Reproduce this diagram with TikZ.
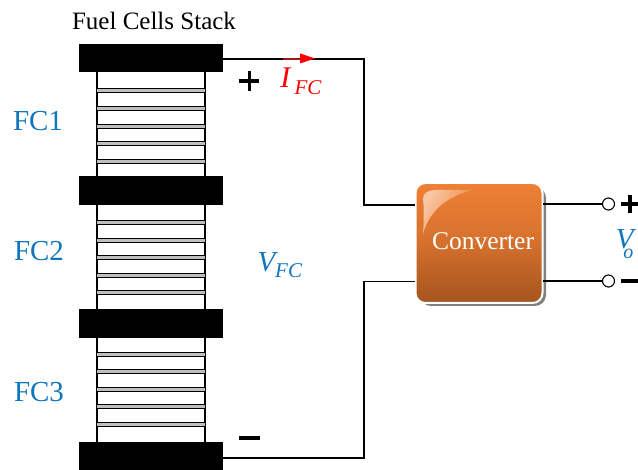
\documentclass[tikz,border=0pt]{standalone}
\usepackage{fontspec}
\setmainfont{Liberation Serif}
\usetikzlibrary{arrows.meta,calc}
\definecolor{fcblue}{HTML}{0F75BE}
\definecolor{convtop}{HTML}{EF8035}
\definecolor{convbot}{HTML}{A3541E}
\definecolor{darkred}{HTML}{A01818}
\tikzset{
 x=1pt,y=-1pt,
 plate/.style={fill=black,draw=none,minimum width=144pt,minimum height=28.5pt,inner sep=0pt,outer sep=0pt},
 cellbox/.style={draw=black,line width=1.2pt,fill=white,minimum width=108pt,inner sep=0pt},
 wire/.style={draw=black,line width=1.1pt},
 sep/.style={draw=black,line width=0.8pt},
 term/.style={circle,draw=black,line width=1.1pt,fill=white,minimum size=12pt,inner sep=0pt,outer sep=0pt},
 blue label/.style={text=fcblue,font=\fontsize{29}{31}\selectfont,inner sep=0pt},
}
\newcommand{\cellpair}[1]{%
 \fill[black!25] (97,#1-2) rectangle (205,#1+2);
 \draw[sep] (97,#1-2) -- (205,#1-2);
 \draw[sep] (97,#1+2) -- (205,#1+2);
}
\begin{document}
\begin{tikzpicture}
\useasboundingbox (0,0) rectangle (638,470);
% stack bodies
\draw[cellbox] (97,60) rectangle (205,458);
\foreach \y in {90,108,126,143,161,222,240,257,275,292,354,371,389,406,424}{\cellpair{\y}}
\node[plate] (p1) at (151,58) {};
\node[plate] (p2) at (151,190.5) {};
\node[plate] (p3) at (151,323.5) {};
\node[plate,minimum height=28pt] (p4) at (151,456) {};
% converter
\fill[black!50,rounded corners=11pt] (420,187) rectangle (546,306);
\node[draw=white,line width=2pt,rounded corners=10pt,minimum width=127pt,minimum height=120pt,inner sep=0pt,outer sep=0pt,
  top color=convtop,bottom color=convbot,middle color=convtop!65!convbot] (conv) at (479,243) {};
\path[left color=convtop!45!white,right color=convtop,shading angle=60,draw=none]
  (423,234) .. controls (424,220) and (424,208) .. (423,199) .. controls (423,193) and (428,190) .. (435,190)
  -- (472,190) .. controls (450,196) and (430,208) .. (423,234) -- cycle;
\node[text=white,font=\fontsize{25.5}{27}\selectfont,inner sep=0pt] (convlabel) at (483,241) {Converter};
% terminals
\node[term] (t1) at (608.5,204) {};
\node[term] (t2) at (608.5,281) {};
% wires
\coordinate (c1) at (415,205);
\coordinate (c2) at (415,281.5);
\coordinate (c3) at (543,204);
\coordinate (c4) at (543,281);
\coordinate (bus) at (364,0);
\coordinate (w1) at (223,59);
\coordinate (w2) at (223,458);
\draw[wire] (w1) -- (w1 -| bus) -- (bus |- c1) -- (c1);
\draw[wire] (w2) -- (w2 -| bus) -- (bus |- c2) -- (c2);
\draw[wire] (c3) -- (t1);
\draw[wire] (c4) -- (t2);
% current arrow
\coordinate (a1) at (283,59);
\coordinate (a2) at (300,59);
\coordinate (a3) at (315,58.5);
\draw[line width=1.3pt,darkred] (a1) -- (a2);
\fill[red] (300,53.5) -- (a3) -- (300,63.5) -- cycle;
% labels
\node[inner sep=0pt,font=\fontsize{25}{27}\selectfont] (title) at (154,21) {Fuel Cells Stack};
\node[blue label] (fc1) at (38,121) {FC1};
\node[blue label] (fc2) at (39,251) {FC2};
\node[blue label] (fc3) at (39,392) {FC3};
\node[inner sep=0pt,text=red,font=\fontsize{30}{32}\selectfont] (ifc) at (301,81) {\textit{I}\kern3pt\raisebox{-7pt}{\fontsize{21}{23}\selectfont\textit{FC}}};
\node[inner sep=0pt,text=fcblue,font=\fontsize{29}{31}\selectfont] (vfc) at (280,265) {\textit{V}\kern-3pt\raisebox{-6pt}{\fontsize{21}{23}\selectfont\textit{FC}}};
\node[inner sep=0pt,text=fcblue,font=\fontsize{29}{31}\selectfont] (vo) at (626,244) {\textit{V}\kern-13pt\raisebox{-10pt}{\fontsize{20}{22}\selectfont\textit{o}}\kern3pt};
% polarity signs
\fill (239,79.5) rectangle (259,83);
\fill (247.5,71) rectangle (251,91);
\fill (239,436.5) rectangle (260,440);
\fill (621,202.5) rectangle (638,206);
\fill (628,195) rectangle (631.5,213);
\fill (621,279.5) rectangle (638,283);
\end{tikzpicture}
\end{document}
